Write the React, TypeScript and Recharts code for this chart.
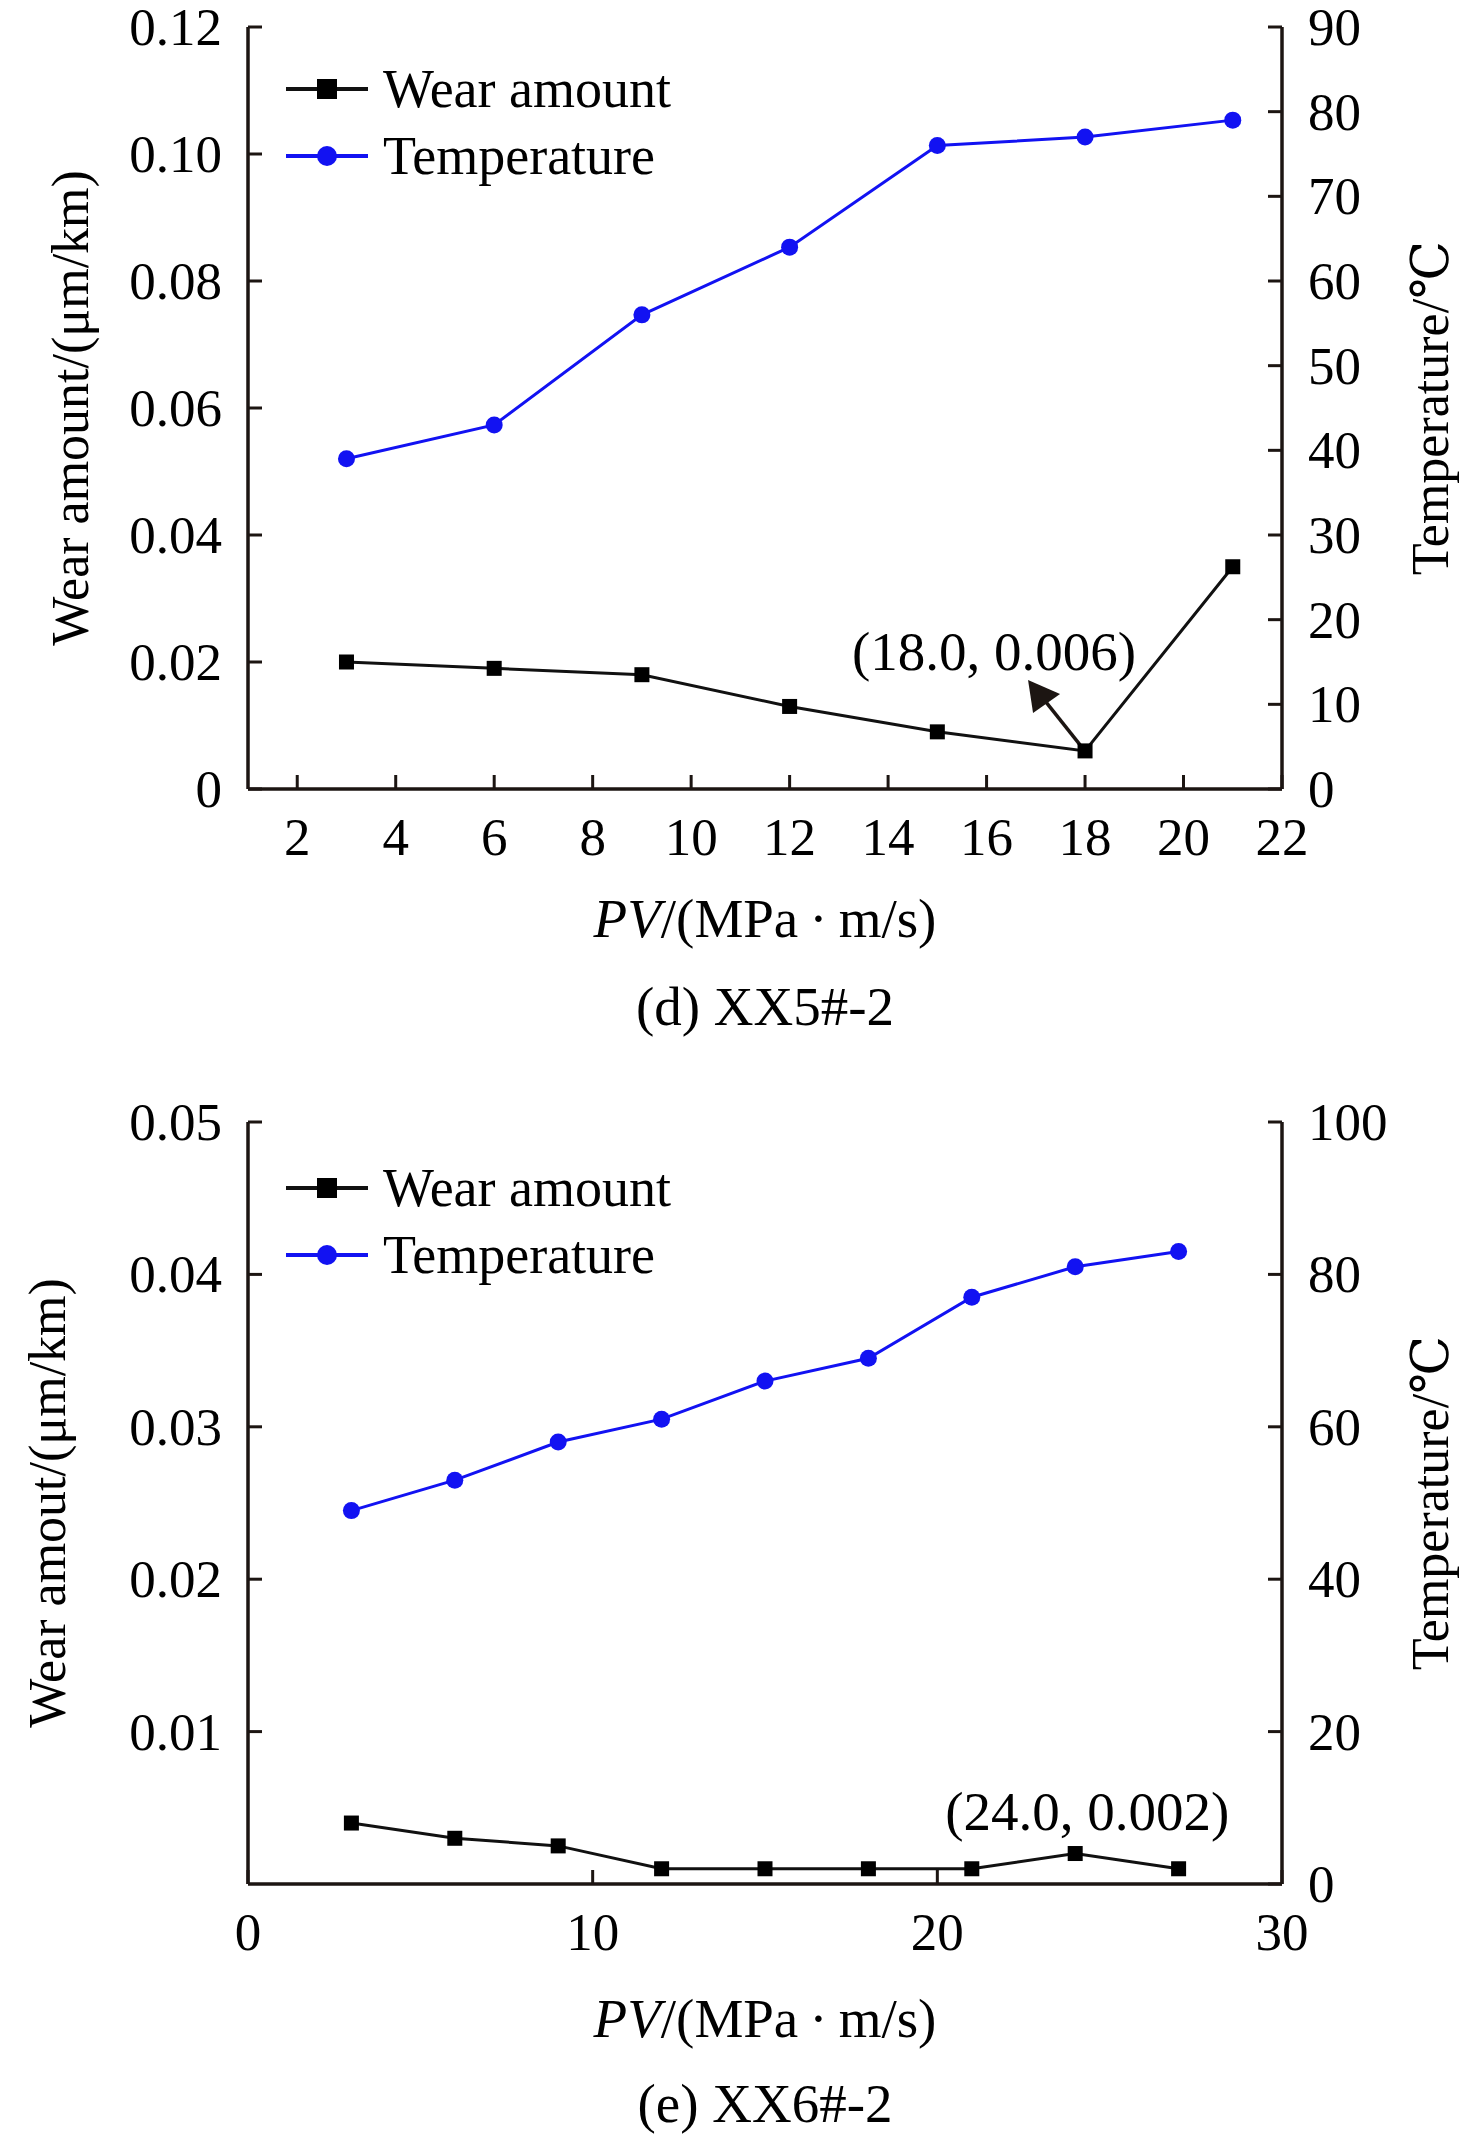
import React from 'react';
import { LineChart, Line, XAxis, YAxis, Legend, ReferenceDot, Label } from 'recharts';

// (d) XX5#-2
const pvD = [3, 6, 9, 12, 15, 18, 21];
const wearD = [0.02, 0.019, 0.018, 0.013, 0.009, 0.006, 0.035];
const tempD = [39, 43, 56, 64, 76, 77, 79];

// (e) XX6#-2
const pvE = [3, 6, 9, 12, 15, 18, 21, 24, 27];
const wearE = [0.004, 0.003, 0.0025, 0.001, 0.001, 0.001, 0.001, 0.002, 0.001];
const tempE = [49, 53, 58, 61, 66, 69, 77, 81, 83];

const xTicksD = [2, 4, 6, 8, 10, 12, 14, 16, 18, 20, 22];
const wearTicksD = [0, 0.02, 0.04, 0.06, 0.08, 0.1, 0.12];
const tempTicksD = [0, 10, 20, 30, 40, 50, 60, 70, 80, 90];

const xTicksE = [0, 10, 20, 30];
const wearTicksE = [0.01, 0.02, 0.03, 0.04, 0.05];
const tempTicksE = [0, 20, 40, 60, 80, 100];

const FONT = '"Liberation Serif", "Times New Roman", "DejaVu Serif", serif';
const INK = '#1c1512';
const BLUE = '#1212f2';
const BLACK = '#111';

const toRows = (pv: number[], wear: number[], temp: number[]) =>
  pv.map((x, i) => ({ pv: x, wear: wear[i], temp: temp[i] }));

const fmtWear = (v: number) => (v === 0 ? '0' : v.toFixed(2));

function LeftTick({ x, y, payload }: any) {
  return (
    <g>
      <line x1={x} y1={y} x2={x + 14} y2={y} stroke={INK} strokeWidth={3} />
      <text x={x - 26} y={y} dy="0.34em" textAnchor="end" fontFamily={FONT} fontSize={53} fill="#000">
        {fmtWear(payload.value)}
      </text>
    </g>
  );
}

function RightTick({ x, y, payload }: any) {
  return (
    <g>
      <line x1={x} y1={y} x2={x - 14} y2={y} stroke={INK} strokeWidth={3} />
      <text x={x + 26} y={y} dy="0.34em" textAnchor="start" fontFamily={FONT} fontSize={53} fill="#000">
        {String(payload.value)}
      </text>
    </g>
  );
}

function BottomTick({ x, y, payload }: any) {
  return (
    <g>
      <line x1={x} y1={y} x2={x} y2={y - 14} stroke={INK} strokeWidth={3} />
      <text x={x} y={y + 66} textAnchor="middle" fontFamily={FONT} fontSize={53} fill="#000">
        {String(payload.value)}
      </text>
    </g>
  );
}

const SquareDot = ({ cx, cy }: any) =>
  cx == null ? null : <rect x={cx - 7.5} y={cy - 7.5} width={15} height={15} fill="#000" />;

const RoundDot = ({ cx, cy }: any) =>
  cx == null ? null : <circle cx={cx} cy={cy} r={8.5} fill={BLUE} />;

function LegendBox() {
  const row = (kind: 'sq' | 'ci', text: string, color: string) => (
    <div style={{ display: 'flex', alignItems: 'center', height: 67 }}>
      <svg width={84} height={24} style={{ display: 'block' }}>
        <line x1={1} y1={12} x2={83} y2={12} stroke={color} strokeWidth={4} />
        {kind === 'sq' ? (
          <rect x={32} y={2} width={20} height={20} fill="#000" />
        ) : (
          <circle cx={42} cy={12} r={10} fill={BLUE} />
        )}
      </svg>
      <span style={{ fontFamily: FONT, fontSize: 54, lineHeight: 1, marginLeft: 14, color: '#000' }}>{text}</span>
    </div>
  );
  return (
    <div>
      {row('sq', 'Wear amount', BLACK)}
      {row('ci', 'Temperature', BLUE)}
    </div>
  );
}

function XTitle({ viewBox, caption, dyLabel, dyCaption }: any) {
  const cx = viewBox.x + viewBox.width / 2;
  return (
    <g fontFamily={FONT} fill="#000">
      <text x={cx} y={viewBox.y + dyLabel} textAnchor="middle" fontSize={55}>
        <tspan fontStyle="italic">PV</tspan>
        <tspan>/(MPa{'\u2009'}·{'\u2009'}m/s)</tspan>
      </text>
      <text x={cx} y={viewBox.y + dyCaption} textAnchor="middle" fontSize={55}>
        {caption}
      </text>
    </g>
  );
}

function VTitle({ viewBox, text, cxAbs }: any) {
  const cy = viewBox.y + viewBox.height / 2;
  return (
    <text
      x={cxAbs}
      y={cy}
      transform={`rotate(-90, ${cxAbs}, ${cy})`}
      textAnchor="middle"
      dominantBaseline="central"
      fontFamily={FONT}
      fontSize={52}
      fill="#000"
    >
      {text}
    </text>
  );
}

function ArrowNote({ cx, cy }: any) {
  if (cx == null) return null;
  return (
    <g>
      <line x1={cx - 5} y1={cy - 6} x2={cx - 40} y2={cy - 50} stroke="#1c1512" strokeWidth={3.5} />
      <polygon
        points={`${cx - 57},${cy - 71} ${cx - 25},${cy - 57} ${cx - 52},${cy - 38}`}
        fill="#1c1512"
      />
      <text x={cx - 91} y={cy - 81} textAnchor="middle" fontFamily={FONT} fontSize={55} fill="#000">
        (18.0, 0.006)
      </text>
    </g>
  );
}

function PlainNote({ cx, cy }: any) {
  if (cx == null) return null;
  return (
    <text x={cx + 12} y={cy - 24} textAnchor="middle" fontFamily={FONT} fontSize={55} fill="#000">
      (24.0, 0.002)
    </text>
  );
}

type PanelProps = {
  rows: { pv: number; wear: number; temp: number }[];
  height: number;
  top: number;
  xDomain: [number, number];
  xTicks: number[];
  wearDomain: [number, number];
  wearTicks: number[];
  tempDomain: [number, number];
  tempTicks: number[];
  wearTitle: string;
  wearTitleX: number;
  caption: string;
  dyLabel: number;
  dyCaption: number;
  legendTop: number;
  note: React.ReactNode;
};

function Panel(p: PanelProps) {
  const plotBottom = p.height - (p.height - p.top - 762);
  return (
    <LineChart
      width={1476}
      height={p.height}
      data={p.rows}
      margin={{ top: p.top, right: 0, bottom: 0, left: 0 }}
    >
      <XAxis
        dataKey="pv"
        type="number"
        domain={p.xDomain}
        ticks={p.xTicks}
        interval={0}
        allowDataOverflow
        height={p.height - p.top - 762}
        axisLine={{ stroke: INK, strokeWidth: 3.5 }}
        tickLine={false}
        tickSize={0}
        tickMargin={0}
        tick={<BottomTick />}
      >
        <Label
          content={(props: any) => (
            <XTitle viewBox={props.viewBox} caption={p.caption} dyLabel={p.dyLabel} dyCaption={p.dyCaption} />
          )}
        />
      </XAxis>
      <XAxis
        xAxisId="top"
        orientation="top"
        dataKey="pv"
        type="number"
        domain={p.xDomain}
        height={0}
        tick={false}
        tickLine={false}
        axisLine={{ stroke: INK, strokeWidth: 3.5 }}
      />
      <YAxis
        yAxisId="left"
        orientation="left"
        type="number"
        domain={p.wearDomain}
        ticks={p.wearTicks}
        interval={0}
        allowDataOverflow
        width={248}
        axisLine={{ stroke: INK, strokeWidth: 3.5 }}
        tickLine={false}
        tickSize={0}
        tickMargin={0}
        tick={<LeftTick />}
      >
        <Label
          content={(props: any) => <VTitle viewBox={props.viewBox} text={p.wearTitle} cxAbs={p.wearTitleX} />}
        />
      </YAxis>
      <YAxis
        yAxisId="right"
        orientation="right"
        type="number"
        domain={p.tempDomain}
        ticks={p.tempTicks}
        interval={0}
        allowDataOverflow
        width={194}
        axisLine={{ stroke: INK, strokeWidth: 3.5 }}
        tickLine={false}
        tickSize={0}
        tickMargin={0}
        tick={<RightTick />}
      >
        <Label
          content={(props: any) => <VTitle viewBox={props.viewBox} text="Temperature/℃" cxAbs={1430} />}
        />
      </YAxis>
      <Legend
        layout="vertical"
        align="center"
        verticalAlign="middle"
        content={() => <LegendBox />}
        wrapperStyle={{ left: 285, top: p.legendTop, width: 480, height: 134 }}
      />
      <Line
        yAxisId="left"
        dataKey="wear"
        name="Wear amount"
        stroke={BLACK}
        strokeWidth={3}
        dot={<SquareDot />}
        activeDot={false}
        isAnimationActive={false}
      />
      <Line
        yAxisId="right"
        dataKey="temp"
        name="Temperature"
        stroke={BLUE}
        strokeWidth={3}
        dot={<RoundDot />}
        activeDot={false}
        isAnimationActive={false}
      />
      {p.note}
    </LineChart>
  );
}

export default function App() {
  return (
    <div style={{ width: 1476, height: 2139, background: '#fff' }}>
      <style>{'body{margin:0;background:#fff}'}</style>
      <Panel
        rows={toRows(pvD, wearD, tempD)}
        height={1070}
        top={27}
        xDomain={[1, 22]}
        xTicks={xTicksD}
        wearDomain={[0, 0.12]}
        wearTicks={wearTicksD}
        tempDomain={[0, 90]}
        tempTicks={tempTicksD}
        wearTitle="Wear amount/(μm/km)"
        wearTitleX={70}
        caption="(d) XX5#-2"
        dyLabel={148}
        dyCaption={236}
        legendTop={27 + 61 - 33}
        note={
          <ReferenceDot
            yAxisId="left"
            x={18}
            y={0.006}
            r={0}
            ifOverflow="visible"
            shape={(props: any) => <ArrowNote {...props} />}
          />
        }
      />
      <Panel
        rows={toRows(pvE, wearE, tempE)}
        height={1069}
        top={52}
        xDomain={[0, 30]}
        xTicks={xTicksE}
        wearDomain={[0, 0.05]}
        wearTicks={wearTicksE}
        tempDomain={[0, 100]}
        tempTicks={tempTicksE}
        wearTitle="Wear amout/(μm/km)"
        wearTitleX={47}
        caption="(e) XX6#-2"
        dyLabel={153}
        dyCaption={238}
        legendTop={52 + 65 - 33}
        note={
          <ReferenceDot
            yAxisId="left"
            x={24}
            y={0.002}
            r={0}
            ifOverflow="visible"
            shape={(props: any) => <PlainNote {...props} />}
          />
        }
      />
    </div>
  );
}
